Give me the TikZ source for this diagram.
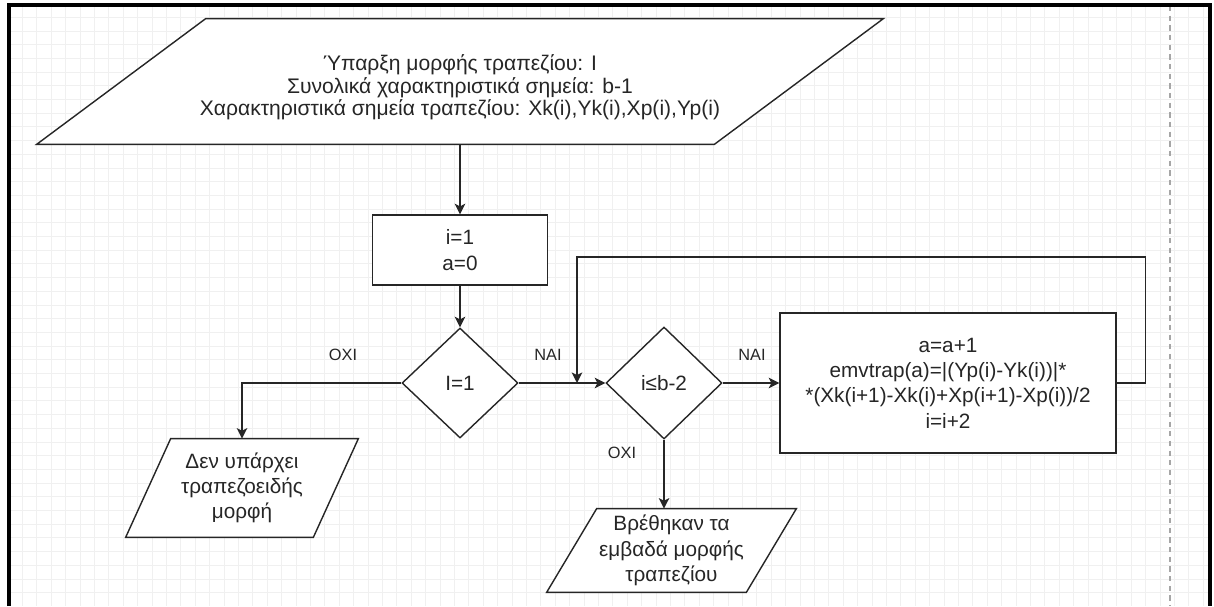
\documentclass[tikz,border=0pt]{standalone}
\usepackage{fontspec}
\setmainfont{Liberation Sans}
\usetikzlibrary{shapes.geometric,arrows.meta,backgrounds}

\newdimen\unitpx
\unitpx=0.02cm

% parallelogram outline behind an io node: node, slant (px), extra height on top (px)
\newcommand\ioframe[3]{%
    \begin{scope}[on background layer]
        \draw[outline, fill=white]
            ([xshift=#2\unitpx, yshift=#3\unitpx]#1.north west) -- ([yshift=#3\unitpx]#1.north east)
            -- ([xshift=-#2\unitpx]#1.south east) -- (#1.south west) -- cycle;
    \end{scope}}

\begin{document}
\begin{tikzpicture}[x=0.02cm, y=-0.02cm,
    outline/.style={line width=0.8pt, draw=black!85},
    arrowline/.style={outline, -{Stealth[length=6pt,width=6pt,inset=1.5pt]}},
    shapetext/.style={align=center, text=black!85, font=\fontsize{11.8}{14.4}\selectfont},
    procbox/.style={shapetext, outline, fill=white, inner sep=0pt},
    decision/.style={procbox, diamond, aspect=1},
    iobox/.style={shapetext, inner sep=0pt},
    answer/.style={text=black!85, font=\fontsize{9.3}{11}\selectfont, inner sep=0pt},
    gridline/.style={draw=black!6, line width=0.5pt}]

    \useasboundingbox (0,0) rectangle (1214,606);

    % Background grid
    \begin{scope}[on background layer]
        \fill[white] (0,0) rectangle (1214,606);
        \foreach \i in {0,...,83}
            \draw[gridline] ({8+14.4*\i},6) -- ({8+14.4*\i},606);
        \foreach \j in {0,...,42}
            \draw[gridline] (10,{17.3+13.7*\j}) -- (1209,{17.3+13.7*\j});
    \end{scope}

    % Page break and frame
    \draw[black!35, line width=0.6pt, dash pattern=on 3pt off 2.5pt] (1170,6) -- (1170,606);
    \draw[black, line width=1.8pt] (9,606) -- (9,5) -- (1210,5) -- (1210,606);

    % Input data
    \node[iobox, minimum width=846\unitpx, minimum height=113\unitpx,
          font=\fontsize{12}{12.9}\selectfont] (input) at (460,87.5)
        {Ύπαρξη μορφής τραπεζίου: I\\
         Συνολικά χαρακτηριστικά σημεία: b-1\\
         Χαρακτηριστικά σημεία τραπεζίου: Xk(i),Yk(i),Xp(i),Yp(i)};
    \ioframe{input}{169}{12}

    % Initial values
    \node[procbox, minimum width=175\unitpx, minimum height=70\unitpx] (init) at (460,250)
        {i=1\\a=0};

    % Decisions
    \node[decision, minimum width=116\unitpx, minimum height=110\unitpx] (ischeck) at (460,383) {I=1};
    \node[decision, minimum width=116\unitpx, minimum height=112\unitpx] (loopcheck) at (664,383) {i≤b-2};

    % Area computation
    \node[procbox, minimum width=336\unitpx, minimum height=140\unitpx] (area) at (948,383)
        {a=a+1\\
         emvtrap(a)=|(Yp(i)-Yk(i))|*\\
         *(Xk(i+1)-Xk(i)+Xp(i+1)-Xp(i))/2\\
         i=i+2};

    % Outputs
    \node[iobox, minimum width=232\unitpx, minimum height=98\unitpx] (nomorph) at (242,488)
        {Δεν υπάρχει\\τραπεζοειδής\\μορφή};
    \ioframe{nomorph}{45}{0}
    \node[iobox, minimum width=249\unitpx, minimum height=83\unitpx] (found) at (671.5,550.5)
        {Βρέθηκαν τα\\εμβαδά μορφής\\τραπεζίου};
    \ioframe{found}{50}{0}

    \coordinate (join) at (577,383);

    % Connectors
    \draw[arrowline] (input) -- (init);
    \draw[arrowline] (init) -- (ischeck);
    \draw[arrowline] (ischeck.west) -| (nomorph.north);
    \draw[arrowline] (ischeck.east) -- (loopcheck.west);
    \draw[arrowline] (loopcheck.east) -- (area.west);
    \draw[arrowline] (area.east) -| ++(29,-126) -| (join);
    \draw[arrowline] (loopcheck.south) -- (loopcheck.south |- found.north);

    % Branch labels
    \node[answer] (no1) at (343,355) {ΟΧΙ};
    \node[answer] (yes1) at (548,355) {ΝΑΙ};
    \node[answer] (yes2) at (752,355) {ΝΑΙ};
    \node[answer] (no2) at (622,453) {ΟΧΙ};

\end{tikzpicture}
\end{document}
